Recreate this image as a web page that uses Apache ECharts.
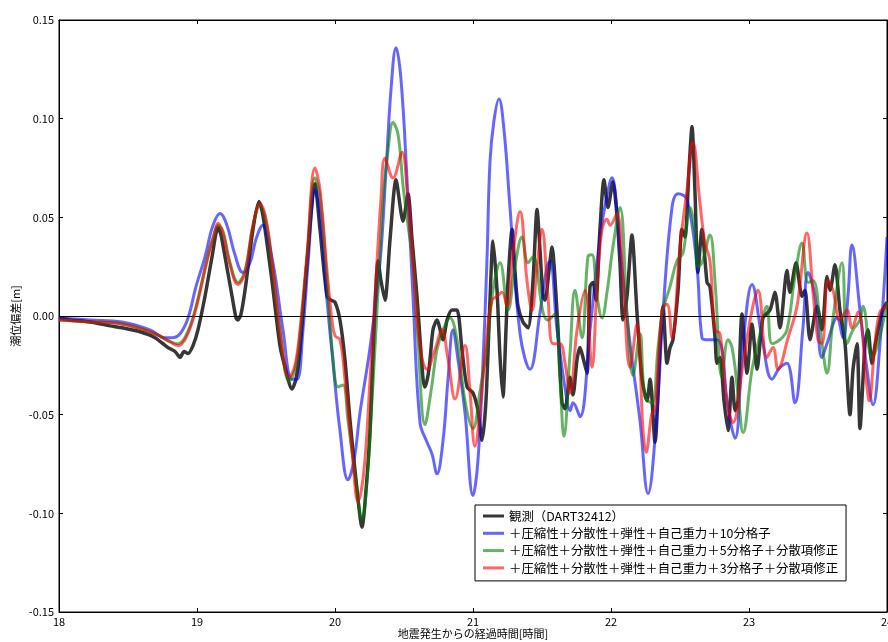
<!DOCTYPE html>
<html><head><meta charset="utf-8">
<script src="https://cdn.jsdelivr.net/npm/echarts@6/dist/echarts.min.js"></script>
<style>html,body{margin:0;padding:0;background:#fff}#c{width:888px;height:642px}</style>
</head><body><div id="c"></div>
<script>
const seriesNames = ['観測（DART32412）','＋圧縮性＋分散性＋弾性＋自己重力＋10分格子','＋圧縮性＋分散性＋弾性＋自己重力＋5分格子＋分散項修正','＋圧縮性＋分散性＋弾性＋自己重力＋3分格子＋分散項修正'];
const xTicks = [18,19,20,21,22,23,24];
const yTicks = [-0.15,-0.10,-0.05,0.00,0.05,0.10,0.15];

const obsTime = [18.000,18.080,18.225,18.370,18.457,18.587,18.696,18.790,18.841,18.877,18.906,18.935,18.971,19.007,19.058,19.109,19.152,19.174,19.203,19.254,19.283,19.297,19.319,19.348,19.406,19.449,19.478,19.543,19.601,19.638,19.688,19.717,19.746,19.797,19.855,19.891,19.942,19.971,20.000,20.036,20.072,20.109,20.152,20.196,20.225,20.254,20.283,20.312,20.333,20.362,20.399,20.442,20.493,20.529,20.558,20.594,20.638,20.652,20.681,20.710,20.739,20.783,20.812,20.848,20.884,20.920,20.957,21.000,21.036,21.065,21.094,21.123,21.145,21.174,21.196,21.217,21.239,21.254,21.283,21.304,21.326,21.362,21.399,21.435,21.464,21.486,21.507,21.522,21.551,21.572,21.609,21.645,21.667,21.703,21.725,21.754,21.775,21.797,21.826,21.848,21.870,21.891,21.920,21.949,21.978,22.014,22.043,22.065,22.087,22.116,22.152,22.188,22.225,22.261,22.283,22.319,22.355,22.377,22.406,22.428,22.449,22.486,22.514,22.536,22.565,22.587,22.609,22.630,22.659,22.696,22.717,22.754,22.768,22.790,22.819,22.848,22.877,22.899,22.920,22.949,22.986,23.022,23.058,23.101,23.152,23.188,23.225,23.275,23.297,23.341,23.384,23.406,23.442,23.493,23.529,23.565,23.587,23.623,23.659,23.696,23.732,23.754,23.783,23.804,23.841,23.862,23.891,23.913,23.964,24.000];
const obsVal = [-0.001,-0.002,-0.003,-0.005,-0.006,-0.008,-0.011,-0.016,-0.018,-0.021,-0.018,-0.019,-0.015,-0.007,0.010,0.030,0.045,0.041,0.030,0.010,-0.001,-0.002,0.001,0.013,0.044,0.058,0.051,0.018,-0.015,-0.026,-0.037,-0.032,-0.017,0.027,0.067,0.044,0.010,0.008,0.007,-0.002,-0.022,-0.053,-0.083,-0.107,-0.088,-0.058,-0.007,0.028,0.018,0.008,0.039,0.069,0.048,0.062,0.039,0.010,-0.032,-0.036,-0.027,-0.007,-0.002,-0.012,-0.002,0.003,0.003,-0.017,-0.036,-0.039,-0.048,-0.063,-0.043,0.008,0.038,0.013,-0.021,-0.041,-0.007,0.018,0.044,0.023,0.005,-0.003,-0.006,0.018,0.054,0.033,0.010,0.008,0.023,0.035,0.002,-0.044,-0.047,-0.031,-0.040,-0.022,-0.016,-0.021,-0.029,0.015,0.017,0.008,0.044,0.069,0.055,0.068,0.051,0.027,-0.002,0.010,0.041,0.002,-0.032,-0.043,-0.032,-0.064,-0.016,0.005,-0.024,-0.016,-0.012,0.013,0.044,0.040,0.074,0.096,0.062,0.022,0.044,0.017,0.015,-0.011,-0.024,-0.021,-0.043,-0.058,-0.031,-0.048,-0.043,0.001,-0.029,-0.004,-0.027,-0.001,0.003,0.012,-0.006,0.023,0.012,0.027,0.010,0.013,-0.012,0.005,-0.007,0.020,0.013,0.026,0.003,-0.014,-0.050,-0.027,-0.014,-0.057,-0.014,-0.007,-0.024,-0.015,0.002,0.007];

const m10Time = [18.000,18.225,18.457,18.659,18.768,18.819,18.877,18.935,18.993,19.058,19.116,19.167,19.217,19.275,19.333,19.384,19.428,19.478,19.514,19.565,19.623,19.688,19.725,19.768,19.804,19.855,19.891,19.942,19.986,20.036,20.094,20.138,20.181,20.254,20.326,20.370,20.406,20.442,20.478,20.522,20.565,20.616,20.667,20.703,20.739,20.783,20.819,20.855,20.891,20.942,21.000,21.036,21.072,21.101,21.123,21.152,21.188,21.225,21.268,21.341,21.413,21.486,21.536,21.558,21.609,21.681,21.703,21.725,21.775,21.848,21.920,21.971,22.007,22.043,22.065,22.138,22.210,22.268,22.333,22.377,22.442,22.486,22.551,22.623,22.659,22.696,22.768,22.804,22.841,22.899,22.957,23.022,23.094,23.167,23.225,23.275,23.333,23.391,23.428,23.478,23.529,23.565,23.638,23.681,23.717,23.746,23.804,23.855,23.899,23.949,24.000];
const m10Val = [-0.001,-0.002,-0.003,-0.007,-0.011,-0.011,-0.009,-0.001,0.015,0.030,0.046,0.052,0.046,0.031,0.022,0.027,0.039,0.046,0.039,0.021,-0.007,-0.032,-0.032,-0.007,0.026,0.064,0.051,0.008,-0.024,-0.058,-0.083,-0.073,-0.049,-0.016,0.027,0.074,0.115,0.136,0.120,0.069,0.010,-0.054,-0.064,-0.070,-0.080,-0.063,-0.032,-0.007,-0.022,-0.049,-0.091,-0.073,-0.024,0.028,0.078,0.099,0.110,0.094,0.055,-0.009,-0.027,0.002,0.025,0.028,-0.007,-0.043,-0.048,-0.044,-0.051,-0.007,0.040,0.061,0.070,0.054,0.035,-0.014,-0.053,-0.090,-0.049,0.002,0.055,0.062,0.059,0.025,-0.011,-0.012,-0.012,-0.017,-0.043,-0.062,-0.014,0.016,-0.011,-0.032,-0.026,-0.024,-0.044,-0.006,0.022,0.010,-0.021,-0.014,-0.001,-0.011,0.010,0.036,0.003,-0.027,-0.045,-0.014,0.040];

const m5Time = [18.000,18.225,18.457,18.696,18.804,18.862,18.920,18.986,19.080,19.123,19.152,19.188,19.239,19.297,19.348,19.406,19.457,19.500,19.543,19.601,19.667,19.710,19.746,19.797,19.855,19.891,19.942,19.986,20.022,20.058,20.094,20.145,20.196,20.232,20.268,20.312,20.348,20.384,20.420,20.457,20.493,20.529,20.565,20.601,20.652,20.696,20.739,20.783,20.833,20.884,20.942,21.000,21.051,21.101,21.145,21.196,21.254,21.304,21.355,21.399,21.435,21.507,21.543,21.594,21.630,21.659,21.703,21.739,21.790,21.833,21.862,21.899,21.935,21.971,22.014,22.065,22.116,22.159,22.210,22.246,22.297,22.341,22.377,22.428,22.478,22.522,22.572,22.609,22.630,22.659,22.717,22.754,22.804,22.848,22.877,22.920,22.957,23.022,23.065,23.130,23.167,23.225,23.275,23.333,23.384,23.428,23.464,23.529,23.565,23.609,23.674,23.710,23.754,23.804,23.826,23.891,23.935,24.000];
const m5Val = [-0.002,-0.003,-0.004,-0.009,-0.013,-0.014,-0.010,0.003,0.031,0.041,0.046,0.043,0.027,0.017,0.023,0.046,0.056,0.048,0.027,-0.007,-0.033,-0.027,-0.010,0.029,0.070,0.061,0.018,-0.022,-0.036,-0.035,-0.053,-0.080,-0.103,-0.083,-0.043,0.013,0.059,0.084,0.098,0.092,0.066,0.046,0.027,-0.012,-0.055,-0.038,-0.017,-0.007,-0.001,-0.012,-0.043,-0.057,-0.038,-0.016,0.013,0.027,0.003,0.025,0.040,0.027,0.030,0.002,-0.002,0.001,-0.032,-0.061,-0.019,0.013,-0.011,0.030,0.031,0.010,-0.001,0.012,0.035,0.055,0.002,-0.030,-0.009,-0.041,-0.044,-0.016,0.003,0.015,0.028,0.032,0.055,0.042,0.025,0.027,0.041,0.017,-0.031,-0.012,-0.016,-0.039,-0.059,-0.027,-0.014,0.005,-0.014,-0.012,-0.007,0.020,0.037,0.017,0.018,-0.014,-0.029,-0.001,0.027,-0.014,-0.007,-0.002,0.005,-0.021,-0.014,0.007];

const m3Time = [18.000,18.225,18.457,18.696,18.804,18.862,18.920,18.986,19.080,19.123,19.152,19.188,19.239,19.297,19.348,19.406,19.457,19.500,19.543,19.601,19.667,19.710,19.746,19.797,19.855,19.891,19.942,19.978,20.000,20.036,20.072,20.123,20.167,20.210,20.254,20.304,20.333,20.362,20.420,20.486,20.522,20.565,20.616,20.667,20.725,20.775,20.819,20.870,20.942,20.978,21.014,21.058,21.101,21.138,21.174,21.210,21.246,21.290,21.341,21.391,21.428,21.464,21.500,21.543,21.580,21.630,21.667,21.703,21.754,21.812,21.862,21.899,21.935,21.971,21.993,22.043,22.087,22.138,22.188,22.232,22.254,22.297,22.319,22.370,22.406,22.442,22.500,22.551,22.594,22.645,22.681,22.717,22.754,22.790,22.841,22.884,22.957,23.022,23.065,23.130,23.174,23.210,23.283,23.348,23.420,23.464,23.500,23.529,23.572,23.609,23.659,23.710,23.746,23.790,23.855,23.870,23.913,23.949,24.000];
const m3Val = [-0.002,-0.003,-0.004,-0.009,-0.013,-0.015,-0.011,0.002,0.030,0.041,0.047,0.042,0.026,0.016,0.022,0.046,0.057,0.049,0.028,-0.007,-0.031,-0.025,-0.007,0.031,0.075,0.064,0.023,-0.002,-0.010,-0.012,-0.032,-0.068,-0.094,-0.078,-0.032,0.027,0.059,0.080,0.070,0.083,0.064,0.027,-0.016,-0.027,-0.017,-0.007,-0.022,-0.042,-0.015,-0.038,-0.066,-0.043,-0.009,0.008,0.010,0.012,0.005,0.032,0.053,0.018,0.003,0.025,0.044,0.010,-0.014,-0.014,-0.024,-0.039,-0.007,0.013,-0.026,0.015,0.044,0.049,0.046,0.052,0.018,-0.026,-0.004,-0.058,-0.069,-0.049,-0.048,0.003,0.006,-0.011,0.035,0.064,0.088,0.057,0.037,0.028,-0.007,-0.009,-0.044,-0.054,-0.024,0.003,0.013,-0.021,-0.016,-0.027,-0.011,0.005,0.042,0.012,-0.012,-0.014,0.018,0.013,-0.002,0.003,-0.006,0.002,-0.036,-0.043,-0.014,0.002,0.005];

const pair = (ts, vs) => ts.map((t, i) => [t, vs[i]]);
const font = "'Noto Sans CJK JP', 'Noto Sans', sans-serif";
const chart = echarts.init(document.getElementById('c'), null, {renderer: 'canvas'});

const axisCommon = {
  axisLine: {show: true, onZero: false, lineStyle: {color: '#000', width: 1}},
  axisTick: {show: true, inside: true, length: 4, lineStyle: {color: '#000'}},
  splitLine: {show: false}
};

chart.setOption({
  animation: false,
  backgroundColor: '#fff',
  textStyle: {fontFamily: font},
  grid: {left: 59, right: 1, top: 20, bottom: 30, show: true, borderColor: '#000', borderWidth: 1, backgroundColor: 'transparent', outerBoundsMode: 'none'},
  legend: {
    orient: 'vertical', left: 475, top: 505,
    backgroundColor: '#fff', borderColor: '#000', borderWidth: 1,
    padding: [4, 8, 6, 8], itemGap: 3.3, itemWidth: 21, itemHeight: 3, itemTextGap: 14,
    icon: 'rect',
    textStyle: {fontFamily: font, fontSize: 12.4, color: '#000', lineHeight: 14},
    data: seriesNames
  },
  xAxis: [
    Object.assign({type: 'value', min: xTicks[0], max: xTicks[xTicks.length - 1], interval: 1, position: 'bottom',
      name: '地震発生からの経過時間[時間]', nameLocation: 'middle', nameGap: 16, nameMoveOverlap: false,
      nameTextStyle: {fontFamily: font, fontSize: 11, color: '#000'},
      axisLabel: {fontFamily: font, fontSize: 11, color: '#000', margin: 4, alignMaxLabel: 'center', alignMinLabel: 'center', hideOverlap: false, formatter: v => String(v)}}, axisCommon),
    Object.assign({type: 'value', min: xTicks[0], max: xTicks[xTicks.length - 1], interval: 1, position: 'top',
      axisLabel: {show: false}}, axisCommon)
  ],
  yAxis: [
    Object.assign({type: 'value', min: yTicks[0], max: yTicks[yTicks.length - 1], interval: 0.05, position: 'left',
      name: '潮位偏差[m]', nameLocation: 'middle', nameGap: 38, nameMoveOverlap: false,
      nameTextStyle: {fontFamily: font, fontSize: 11, color: '#000'},
      axisLabel: {fontFamily: font, fontSize: 11, color: '#000', margin: 5, formatter: v => v.toFixed(2)}}, axisCommon),
    Object.assign({type: 'value', min: yTicks[0], max: yTicks[yTicks.length - 1], interval: 0.05, position: 'right',
      axisLabel: {show: false}}, axisCommon)
  ],
  series: [
    {name: seriesNames[0], type: 'line', data: pair(obsTime, obsVal), showSymbol: false, smooth: 0.25,
     color: 'rgba(20,20,20,0.85)', lineStyle: {width: 3.5, color: 'rgba(20,20,20,0.85)'}, z: 2,
     markLine: {silent: true, symbol: 'none', label: {show: false}, lineStyle: {color: '#000', width: 1, type: 'solid'}, data: [{yAxis: 0}]}},
    {name: seriesNames[1], type: 'line', data: pair(m10Time, m10Val), showSymbol: false, smooth: 0.4,
     color: 'rgba(0,0,255,0.6)', lineStyle: {width: 3, color: 'rgba(0,0,255,0.6)'}, z: 3},
    {name: seriesNames[2], type: 'line', data: pair(m5Time, m5Val), showSymbol: false, smooth: 0.4,
     color: 'rgba(0,128,0,0.6)', lineStyle: {width: 3, color: 'rgba(0,128,0,0.6)'}, z: 4},
    {name: seriesNames[3], type: 'line', data: pair(m3Time, m3Val), showSymbol: false, smooth: 0.4,
     color: 'rgba(255,0,0,0.6)', lineStyle: {width: 3, color: 'rgba(255,0,0,0.6)'}, z: 5}
  ]
});
</script>
</body></html>
